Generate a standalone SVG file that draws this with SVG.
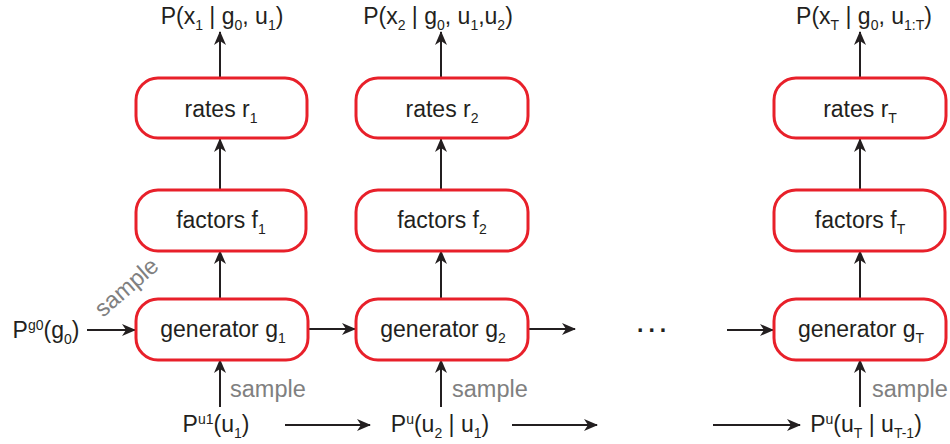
<svg xmlns="http://www.w3.org/2000/svg" width="950" height="444" viewBox="0 0 950 444">
<defs>
<style>
.box{fill:#fff;stroke:#e8202a;stroke-width:3}
.lbl{font-family:"Liberation Sans",Arial,sans-serif;font-size:23px;fill:#231f20}
.mid{text-anchor:middle}
.s{font-size:14px}
.gray{font-family:"Liberation Sans",Arial,sans-serif;font-size:23.5px;fill:#808080}
.edge{stroke:#231f20;stroke-width:2;fill:none;marker-end:url(#ah)}
</style>
<marker id="ah" viewBox="0 0 14 12" refX="13" refY="6" markerWidth="14" markerHeight="12" markerUnits="userSpaceOnUse" orient="auto">
<path d="M0,0 L14,6 L0,12 L4,6 Z" fill="#231f20"/>
</marker>
</defs>
<rect width="950" height="444" fill="#fff"/>

<g id="connectors">
<line class="edge" x1="220" y1="78" x2="220" y2="32"/>
<line class="edge" x1="441" y1="78" x2="441" y2="32"/>
<line class="edge" x1="860" y1="78" x2="860" y2="32"/>
<line class="edge" x1="220" y1="190" x2="220" y2="139"/>
<line class="edge" x1="441" y1="190" x2="441" y2="139"/>
<line class="edge" x1="860" y1="190" x2="860" y2="139"/>
<line class="edge" x1="220" y1="299" x2="220" y2="251"/>
<line class="edge" x1="441" y1="299" x2="441" y2="251"/>
<line class="edge" x1="860" y1="299" x2="860" y2="251"/>
<line class="edge" x1="220" y1="407" x2="220" y2="360"/>
<line class="edge" x1="441" y1="407" x2="441" y2="360"/>
<line class="edge" x1="860" y1="407" x2="860" y2="360"/>
<line class="edge" x1="87" y1="330" x2="135" y2="330"/>
<line class="edge" x1="308" y1="329" x2="355" y2="329"/>
<line class="edge" x1="528" y1="329" x2="575" y2="329"/>
<line class="edge" x1="727" y1="330" x2="773" y2="330"/>
<line class="edge" x1="285" y1="425" x2="370" y2="425"/>
<line class="edge" x1="512" y1="425" x2="597" y2="425"/>
<line class="edge" x1="713" y1="425" x2="800" y2="425"/>
</g>

<g id="rates1"><rect class="box" x="136" y="78" width="171" height="60" rx="22"/><text class="lbl mid" x="221" y="117">rates r<tspan class="s" dy="6">1</tspan></text></g>
<g id="rates2"><rect class="box" x="356" y="78" width="172" height="60" rx="22"/><text class="lbl mid" x="442" y="117">rates r<tspan class="s" dy="6">2</tspan></text></g>
<g id="ratesT"><rect class="box" x="774" y="78" width="172" height="60" rx="22"/><text class="lbl mid" x="860" y="117">rates r<tspan class="s" dy="6">T</tspan></text></g>

<g id="factors1"><rect class="box" x="136" y="190" width="170" height="61" rx="22"/><text class="lbl mid" x="221" y="228">factors f<tspan class="s" dy="6">1</tspan></text></g>
<g id="factors2"><rect class="box" x="356" y="190" width="172" height="61" rx="22"/><text class="lbl mid" x="442" y="228">factors f<tspan class="s" dy="6">2</tspan></text></g>
<g id="factorsT"><rect class="box" x="774" y="190" width="171" height="61" rx="22"/><text class="lbl mid" x="860" y="228">factors f<tspan class="s" dy="6">T</tspan></text></g>

<g id="gen1"><rect class="box" x="136" y="299" width="172" height="61" rx="22"/><text class="lbl mid" x="223" y="337">generator g<tspan class="s" dy="6">1</tspan></text></g>
<g id="gen2"><rect class="box" x="356" y="299" width="172" height="61" rx="22"/><text class="lbl mid" x="443" y="337">generator g<tspan class="s" dy="6">2</tspan></text></g>
<g id="genT"><rect class="box" x="774" y="299" width="172" height="61" rx="22"/><text class="lbl mid" x="861" y="337">generator g<tspan class="s" dy="6">T</tspan></text></g>

<g id="out1"><text class="lbl mid" x="222" y="23.5">P(x<tspan class="s" dy="6">1</tspan><tspan dy="-6"> | g</tspan><tspan class="s" dy="6">0</tspan><tspan dy="-6">, u</tspan><tspan class="s" dy="6">1</tspan><tspan dy="-6">)</tspan></text></g>
<g id="out2"><text class="lbl mid" x="438" y="23.5">P(x<tspan class="s" dy="6">2</tspan><tspan dy="-6"> | g</tspan><tspan class="s" dy="6">0</tspan><tspan dy="-6">, u</tspan><tspan class="s" dy="6">1</tspan><tspan dy="-6">,u</tspan><tspan class="s" dy="6">2</tspan><tspan dy="-6">)</tspan></text></g>
<g id="outT"><text class="lbl mid" x="864" y="23.5">P(x<tspan class="s" dy="6">T</tspan><tspan dy="-6"> | g</tspan><tspan class="s" dy="6">0</tspan><tspan dy="-6">, u</tspan><tspan class="s" dy="6">1:T</tspan><tspan dy="-6">)</tspan></text></g>

<g id="pg0"><text class="lbl mid" x="46" y="338">P<tspan class="s" dy="-8">g0</tspan><tspan dy="8">(g</tspan><tspan class="s" dy="6">0</tspan><tspan dy="-6">)</tspan></text></g>
<g id="pu1"><text class="lbl mid" x="216" y="432">P<tspan class="s" dy="-8">u1</tspan><tspan dy="8">(u</tspan><tspan class="s" dy="6">1</tspan><tspan dy="-6">)</tspan></text></g>
<g id="pu2"><text class="lbl mid" x="440" y="432">P<tspan class="s" dy="-8">u</tspan><tspan dy="8">(u</tspan><tspan class="s" dy="6">2</tspan><tspan dy="-6"> | u</tspan><tspan class="s" dy="6">1</tspan><tspan dy="-6">)</tspan></text></g>
<g id="puT"><text class="lbl mid" x="866" y="432">P<tspan class="s" dy="-8">u</tspan><tspan dy="8">(u</tspan><tspan class="s" dy="6">T</tspan><tspan dy="-6"> | u</tspan><tspan class="s" dy="6">T-1</tspan><tspan dy="-6">)</tspan></text></g>

<g id="dots"><text class="lbl" x="637" y="332" font-weight="bold" letter-spacing="5">...</text></g>

<g id="samples">
<text class="gray" x="230" y="397">sample</text>
<text class="gray" x="452" y="397">sample</text>
<text class="gray" x="872" y="397">sample</text>
<text class="gray" x="103" y="318" transform="rotate(-41 103 318)">sample</text>
</g>
</svg>
